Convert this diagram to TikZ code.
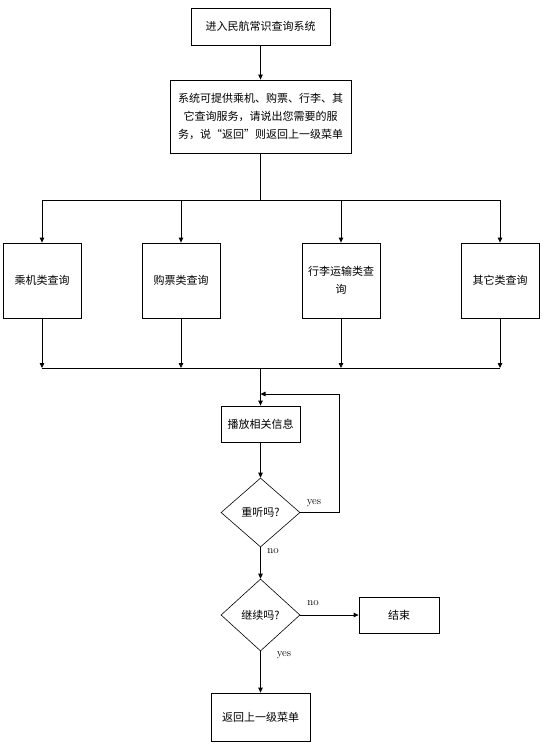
\documentclass[tikz,border=0pt]{standalone}
\usepackage{fontspec}
\newfontfamily\cjk{Noto Sans CJK SC}
\usepackage{tikz}
\usetikzlibrary{arrows.meta}
\usetikzlibrary{shapes.geometric}
\usetikzlibrary{calc}

\tikzset{
    box/.style={draw,rectangle,line width=0.8pt,inner sep=0pt,align=center,font=\cjk\fontsize{11}{18}\selectfont},
    choice/.style={draw,diamond,line width=0.6pt,inner sep=0pt,minimum width=79pt,font=\cjk\fontsize{11}{14}\selectfont},
    flow/.style={line width=0.8pt,-{Triangle[length=5pt,width=4.5pt]}},
    link/.style={line width=0.8pt},
    lbl/.style={font=\fontsize{11}{13}\selectfont,inner sep=0pt},
}

\begin{document}
\begin{tikzpicture}[x=1pt,y=-1pt]
        \useasboundingbox (0,0) rectangle (549,751);

        \node[box,minimum width=139pt,minimum height=37pt] (start) at (260.5,26.5) {进入民航常识查询系统};
        \node[box,minimum width=181pt,minimum height=73pt] (menu) at (260.5,116.5) {系统可提供乘机、购票、行李、其\\它查询服务，请说出您需要的服\\务，说“返回”则返回上一级菜单};

        \node[box,minimum width=78pt,minimum height=75pt] (flight) at (42,280.5) {乘机类查询};
        \node[box,minimum width=78pt,minimum height=75pt] (ticket) at (181,280.5) {购票类查询};
        \node[box,minimum width=78pt,minimum height=75pt] (baggage) at (341,280.5) {行李运输类查\\询};
        \node[box,minimum width=78pt,minimum height=75pt] (other) at (500,280.5) {其它类查询};

        \node[box,minimum width=79pt,minimum height=36pt] (play) at (260.5,424) {播放相关信息};
        \node[choice,minimum height=69pt] (again) at (260.5,512.5) {重听吗?};
        \node[choice,minimum height=72pt] (more) at (260.5,615) {继续吗?};
        \node[box,minimum width=80pt,minimum height=36pt] (stop) at (399,615) {结束};
        \node[box,minimum width=99pt,minimum height=48pt] (back) at (260.5,717) {返回上一级菜单};

        \coordinate (split) at (260.5,200);
        \coordinate (merge) at (260.5,368);
        \coordinate (join) at (260.5,394);
        \coordinate (loop) at (339,394);

        \node[lbl] (yes1) at (314,503) {yes};
        \node[lbl] (no1) at (273,551) {no};
        \node[lbl] (no2) at (313,603) {no};
        \node[lbl] (yes2) at (284,655) {yes};

        \draw[flow] (start) -- (menu);
        \draw[link] (menu) -- (split);
        \draw[link] (flight.north |- split) -- (other.north |- split);
        \draw[flow] (flight.north |- split) -- (flight); \draw[flow] (ticket.north |- split) -- (ticket);
        \draw[flow] (baggage.north |- split) -- (baggage); \draw[flow] (other.north |- split) -- (other);

        \draw[flow] (flight) -- (flight.south |- merge); \draw[flow] (ticket) -- (ticket.south |- merge);
        \draw[flow] (baggage) -- (baggage.south |- merge); \draw[flow] (other) -- (other.south |- merge);
        \draw[link] (flight.south |- merge) -- (other.south |- merge);

        \draw[flow] (merge) -- (play);
        \draw[flow] (play) -- (again);
        \draw[flow] (again.east) -| (loop) -- (join);
        \draw[flow] (again) -- (more);
        \draw[flow] (more) -- (stop);
        \draw[flow] (more) -- (back);

    \end{tikzpicture}
\end{document}
